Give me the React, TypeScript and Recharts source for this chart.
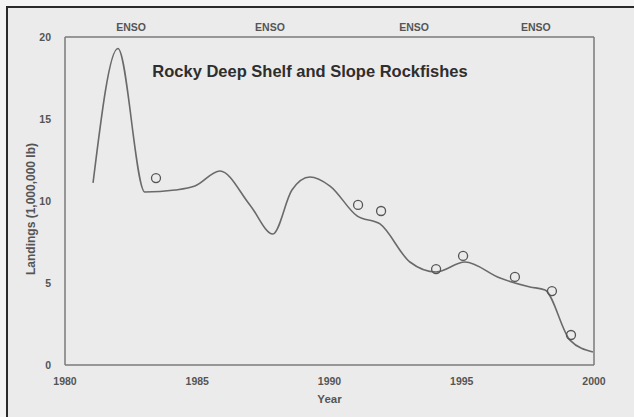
import { ComposedChart, Line, Scatter, XAxis, YAxis } from "recharts";

// smooth fitted curve (year, landings in 1,000,000 lb)
const curveYears = [
  1981.06, 1982.0, 1983.02, 1984.16, 1984.91, 1985.86, 1986.99, 1987.86, 1988.58,
  1989.26, 1990.02, 1991.04, 1991.91, 1993.04, 1994.03, 1995.12, 1996.45, 1997.58,
  1998.15, 1999.09, 1999.96,
];
const curveValues = [
  11.1, 19.3, 10.55, 10.67, 10.91, 11.83, 9.76, 7.99, 10.67,
  11.46, 10.91, 9.09, 8.6, 6.28, 5.67, 6.28, 5.3, 4.76,
  4.57, 1.52, 0.79,
];

// observed points drawn as open circles
const pointYears = [1983.44, 1991.08, 1991.95, 1994.03, 1995.05, 1997.01, 1998.41, 1999.13];
const pointValues = [11.4, 9.76, 9.39, 5.85, 6.65, 5.37, 4.51, 1.83];

const xTicks = [1980, 1985, 1990, 1995, 2000];
const yTicks = [0, 5, 10, 15, 20];
const ensoYears = [1982.5, 1987.75, 1993.2, 1997.8];

const TITLE = "Rocky Deep Shelf and Slope Rockfishes";
const FONT = "'Liberation Sans', Arial, sans-serif";
const AXIS = "#7a7a7a";
const TICK = "#555";

const curve = curveYears.map((year, i) => ({ year, value: curveValues[i] }));
const points = pointYears.map((year, i) => ({ year, value: pointValues[i] }));

function OpenCircle(props: any) {
  const { cx, cy } = props;
  if (cx == null || cy == null) return null;
  return <circle cx={cx} cy={cy} r={4.5} fill="none" stroke="#555" strokeWidth={1.3} />;
}

export default function App() {
  return (
    <div
      style={{
        position: "fixed",
        left: 0,
        top: 0,
        width: 634,
        height: 417,
        background: "#f4f4f4",
        fontFamily: FONT,
      }}
    >
      <div
        style={{
          position: "absolute",
          left: 6,
          top: 6,
          right: 0,
          bottom: 0,
          borderTop: "2px solid #2a2a2a",
          borderLeft: "2px solid #2a2a2a",
          background: "#ebebeb",
        }}
      />
      <div style={{ position: "absolute", left: 0, top: 0 }}>
        <ComposedChart
          width={634}
          height={417}
          margin={{ top: 17, right: 30, left: 35, bottom: 22 }}
        >
          <XAxis
            xAxisId="bottom"
            dataKey="year"
            type="number"
            domain={[1980, 2000]}
            ticks={xTicks}
            tickLine={false}
            stroke={AXIS}
            strokeWidth={1.5}
            height={30}
            tick={{ fill: TICK, fontSize: 10.5, fontWeight: "bold", fontFamily: FONT }}
            tickMargin={7}
            allowDataOverflow
            label={{
              value: "Year",
              position: "insideBottom",
              offset: -8,
              fill: TICK,
              fontSize: 11.5,
              fontWeight: "bold",
              fontFamily: FONT,
            }}
          />
          <XAxis
            xAxisId="top"
            orientation="top"
            dataKey="year"
            type="number"
            domain={[1980, 2000]}
            ticks={ensoYears}
            tickFormatter={() => "ENSO"}
            tickLine={false}
            stroke={AXIS}
            strokeWidth={1.5}
            height={20}
            tick={{ fill: TICK, fontSize: 10.5, fontWeight: "bold", fontFamily: FONT }}
            tickMargin={0}
            allowDataOverflow
          />
          <YAxis
            yAxisId="left"
            type="number"
            domain={[0, 20]}
            ticks={yTicks}
            tickLine={false}
            stroke={AXIS}
            strokeWidth={1.5}
            width={30}
            tick={{ fill: TICK, fontSize: 10.5, fontWeight: "bold", fontFamily: FONT }}
            tickMargin={8}
            label={{
              value: "Landings (1,000,000 lb)",
              angle: -90,
              position: "insideLeft",
              offset: -4,
              dy: 8,
              fill: TICK,
              fontSize: 12,
              fontWeight: "bold",
              fontFamily: FONT,
              style: { textAnchor: "middle" },
            }}
          />
          <YAxis
            yAxisId="right"
            orientation="right"
            type="number"
            domain={[0, 20]}
            tick={false}
            tickLine={false}
            stroke={AXIS}
            strokeWidth={1.5}
            width={10}
            allowDataOverflow
          />
          {/* invisible copy so the top and right frame axes get drawn */}
          <Line
            xAxisId="top"
            yAxisId="right"
            data={curve}
            dataKey="value"
            type="monotone"
            stroke="none"
            dot={false}
            activeDot={false}
            legendType="none"
            isAnimationActive={false}
          />
          <Line
            xAxisId="bottom"
            yAxisId="left"
            data={curve}
            dataKey="value"
            type="monotone"
            stroke="#6a6a6a"
            strokeWidth={1.6}
            dot={false}
            activeDot={false}
            isAnimationActive={false}
          />
          <Scatter
            xAxisId="bottom"
            yAxisId="left"
            data={points}
            dataKey="value"
            shape={<OpenCircle />}
            isAnimationActive={false}
          />
        </ComposedChart>
      </div>
      <div
        style={{
          position: "absolute",
          left: 310,
          top: 71,
          transform: "translate(-50%, -50%)",
          whiteSpace: "nowrap",
          fontSize: 16.5,
          fontWeight: "bold",
          color: "#2e2e2e",
        }}
      >
        {TITLE}
      </div>
    </div>
  );
}
